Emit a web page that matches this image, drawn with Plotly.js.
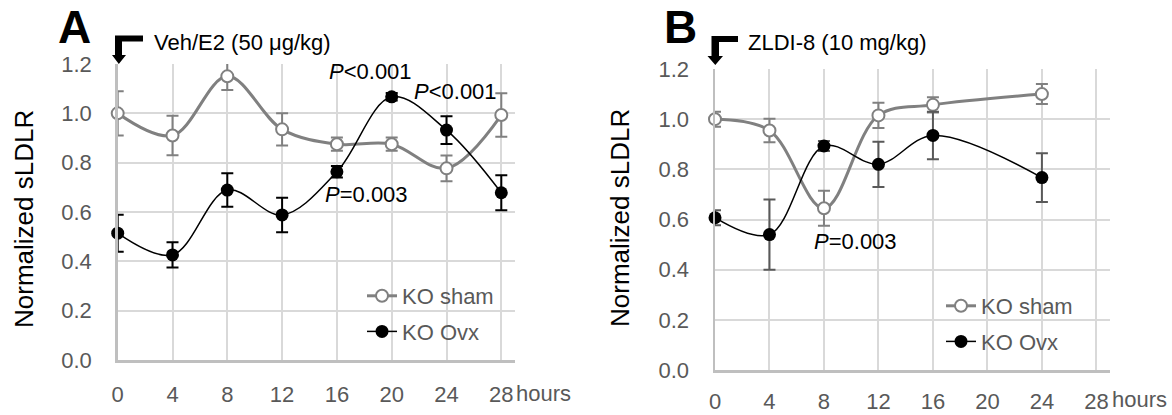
<!DOCTYPE html>
<html>
<head>
<meta charset="utf-8">
<script src="https://cdn.plot.ly/plotly-3.0.1.min.js"></script>
<style>html,body{margin:0;padding:0;background:#fff;}#chart{width:1172px;height:415px;}</style>
</head>
<body>
<div id="chart"></div>
<script>
// ---- data ----
const hoursA = [0, 4, 8, 12, 16, 20, 24, 28];
const shamA = [1.00, 0.91, 1.15, 0.935, 0.875, 0.875, 0.777, 0.993];
const shamAErr = [0.09, 0.08, 0.055, 0.065, 0.027, 0.027, 0.052, 0.088];
const ovxA = [0.514, 0.426, 0.689, 0.588, 0.763, 1.067, 0.932, 0.678];
const ovxAErr = [0.075, 0.051, 0.068, 0.07, 0.023, 0.015, 0.056, 0.071];

const hoursB = [0, 4, 8, 12, 16, 24];
const shamB = [1.00, 0.955, 0.645, 1.015, 1.057, 1.10];
const shamBErr = [0.03, 0.047, 0.07, 0.05, 0.03, 0.04];
const ovxB = [0.607, 0.54, 0.893, 0.82, 0.935, 0.767];
const ovxBErr = [0.03, 0.14, 0.02, 0.09, 0.095, 0.097];

const xTicks = [0, 4, 8, 12, 16, 20, 24, 28];
const yTicks = [0, 0.2, 0.4, 0.6, 0.8, 1.0, 1.2];
const yTickText = ['0.0', '0.2', '0.4', '0.6', '0.8', '1.0', '1.2'];
const seriesNames = ['KO sham', 'KO Ovx'];

// ---- layout helpers ----
const W = 1172, H = 415;
const px = v => v / W;
const py = v => 1 - v / H;
const P = (x, y) => px(x).toFixed(5) + ',' + py(y).toFixed(5);

const GRAY = '#808080';
const TICKC = '#595959';
const TICKF = '"Liberation Sans", Arial, sans-serif';
const ARIAL = '"Liberation Sans", Arial, sans-serif';

function shamTrace(x, y, e, xa, ya, leg) {
  return {
    x: x, y: y, xaxis: xa, yaxis: ya, name: seriesNames[0], legend: leg,
    legendgroup: leg + 's', type: 'scatter', mode: 'lines+markers', cliponaxis: false,
    line: {color: GRAY, width: 3, shape: 'spline', smoothing: 1},
    marker: {symbol: 'circle', size: 12, color: '#ffffff', line: {color: GRAY, width: 2}},
    error_y: {type: 'data', array: e, visible: true, color: GRAY, thickness: 2, width: 6}
  };
}
function ovxTrace(x, y, e, xa, ya, leg, ecol) {
  return {
    x: x, y: y, xaxis: xa, yaxis: ya, name: seriesNames[1], legend: leg,
    legendgroup: leg + 'o', type: 'scatter', mode: 'lines+markers', cliponaxis: false,
    line: {color: '#000000', width: 1.5, shape: 'spline', smoothing: 1},
    marker: {symbol: 'circle', size: 13, color: '#000000'},
    error_y: {type: 'data', array: e, visible: true, color: ecol, thickness: 2, width: 6}
  };
}

const traces = [
  shamTrace(hoursA, shamA, shamAErr, 'x', 'y', 'legend'),
  ovxTrace(hoursA, ovxA, ovxAErr, 'x', 'y', 'legend', '#000000'),
  shamTrace(hoursB, shamB, shamBErr, 'x2', 'y2', 'legend2'),
  ovxTrace(hoursB, ovxB, ovxBErr, 'x2', 'y2', 'legend2', '#595959')
];

function xAxis(dom, anchor, standoff) {
  return {
    domain: dom, anchor: anchor, range: [0, 29], tickmode: 'array', tickvals: xTicks,
    showgrid: true, gridcolor: '#d9d9d9', gridwidth: 2, zeroline: false,
    showline: true, linecolor: '#bfbfbf', linewidth: 2.5, ticks: '',
    tickfont: {family: TICKF, size: 22, color: TICKC}, ticklabelstandoff: standoff
  };
}
function yAxis(dom, anchor) {
  return {
    domain: dom, anchor: anchor, range: [0, 1.2], tickmode: 'array', tickvals: yTicks, ticktext: yTickText,
    showgrid: true, gridcolor: '#d9d9d9', gridwidth: 2, zeroline: false,
    showline: true, linecolor: '#bfbfbf', linewidth: 2.5, ticks: '',
    tickfont: {family: TICKF, size: 22, color: TICKC}, ticklabelstandoff: 19
  };
}

function arrowShapes(barL, barR, barT, barB, stemL, stemR, headL, headR, headT, tipX, tipY) {
  return [
    {type: 'path', xref: 'paper', yref: 'paper', layer: 'above', fillcolor: '#000', line: {width: 0},
     path: 'M' + P(barL, barT) + 'L' + P(barR, barT) + 'L' + P(barR, barB) + 'L' + P(stemR, barB) +
           'L' + P(stemR, headT) + 'L' + P(headR, headT) + 'L' + P(tipX, tipY) + 'L' + P(headL, headT) +
           'L' + P(stemL, headT) + 'L' + P(stemL, barT) + 'Z'}
  ];
}

const shapes = [].concat(
  arrowShapes(113, 143, 35.5, 41.5, 115, 122, 112, 126, 55, 118.8, 64),
  arrowShapes(709, 738, 36, 42, 711.5, 719, 707.5, 723, 56, 715.3, 65)
);

function ann(text, x, y, opts) {
  return Object.assign({text: text, x: x, y: y, xref: 'paper', yref: 'paper', showarrow: false,
    xanchor: 'center', yanchor: 'middle', font: {family: ARIAL, size: 22, color: '#000'}}, opts || {});
}

const annotations = [
  ann('<b>A</b>', px(74.5), py(27), {font: {family: ARIAL, size: 46, color: '#000'}}),
  ann('<b>B</b>', px(680.5), py(27), {font: {family: ARIAL, size: 46, color: '#000'}}),
  ann('Veh/E2 (50 μg/kg)', px(152), py(43), {xanchor: 'left'}),
  ann('ZLDI-8 (10 mg/kg)', px(746), py(43), {xanchor: 'left'}),
  ann('Normalized sLDLR', px(24), py(219), {textangle: -90, font: {family: ARIAL, size: 26, color: '#000'}}),
  ann('Normalized sLDLR', px(620), py(218), {textangle: -90, font: {family: ARIAL, size: 26, color: '#000'}}),
  ann('hours', px(514), py(393), {xanchor: 'left', font: {family: TICKF, size: 22, color: TICKC}}),
  ann('hours', px(1110), py(399), {xanchor: 'left', font: {family: TICKF, size: 22, color: TICKC}}),
  ann('<i>P</i>&lt;0.001', 18.44, 1.169, {xref: 'x', yref: 'y'}),
  ann('<i>P</i>&lt;0.001', 24.66, 1.088, {xref: 'x', yref: 'y'}),
  ann('<i>P</i>=0.003', 18.15, 0.669, {xref: 'x', yref: 'y'}),
  ann('<i>P</i>=0.003', 10.34, 0.513, {xref: 'x2', yref: 'y2'})
];

function legendCfg(x, y) {
  return {x: x, y: y, xanchor: 'left', yanchor: 'top', bgcolor: 'rgba(0,0,0,0)', borderwidth: 0,
    font: {family: TICKF, size: 22, color: TICKC}, traceorder: 'grouped', tracegroupgap: 4,
    itemclick: false, itemdoubleclick: false};
}

const layout = {
  width: W, height: H, margin: {l: 0, r: 0, t: 0, b: 0}, paper_bgcolor: '#fff', plot_bgcolor: '#fff',
  showlegend: true,
  xaxis: xAxis([px(117.7), px(515)], 'y', 13),
  yaxis: yAxis([py(360), py(64)], 'x'),
  xaxis2: xAxis([px(715), px(1110)], 'y2', 10),
  yaxis2: yAxis([py(370), py(69)], 'x2'),
  legend: legendCfg(px(362), py(275)),
  legend2: legendCfg(px(941), py(285)),
  shapes: shapes,
  annotations: annotations
};

Plotly.newPlot('chart', traces, layout, {staticPlot: true, displayModeBar: false});
</script>
</body>
</html>
